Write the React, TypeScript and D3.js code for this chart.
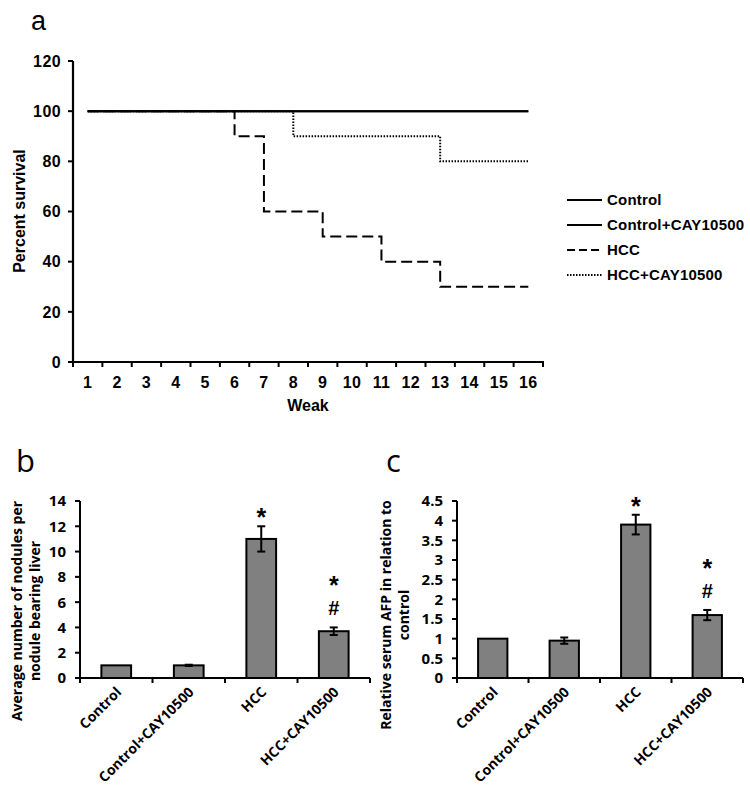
import React from "react";
import * as d3 from "d3";

// ---------- Panel a data ----------
const weekLabels = ["1","2","3","4","5","6","7","8","9","10","11","12","13","14","15","16"];
const controlSurvival = [100,100,100,100,100,100,100,100,100,100,100,100,100,100,100,100];
const controlCaySurvival = [100,100,100,100,100,100,100,100,100,100,100,100,100,100,100,100];
const hccSurvival = [100,100,100,100,100,90,60,60,50,50,40,40,30,30,30,30];
const hccCaySurvival = [100,100,100,100,100,100,100,90,90,90,90,90,80,80,80,80];
const survivalTicks = [0,20,40,60,80,100,120];
const legendLabels = ["Control","Control+CAY10500","HCC","HCC+CAY10500"];

// ---------- Panels b & c data ----------
const barCategories = ["Control","Control+CAY10500","HCC","HCC+CAY10500"];
const nodulesMean = [1.0, 1.0, 11.0, 3.7];
const nodulesErr = [0, 0.05, 1.0, 0.3];
const nodulesTicks = [0,2,4,6,8,10,12,14];
const afpMean = [1.0, 0.95, 3.9, 1.6];
const afpErr = [0, 0.08, 0.25, 0.13];
const afpTicks = [0,0.5,1,1.5,2,2.5,3,3.5,4,4.5];
const starMarks = [false, false, true, true];
const hashMarks = [false, false, false, true];

const ARIAL = "'Liberation Sans', Arial, sans-serif";
const CAL = "'Open Sans', sans-serif";

function SurvivalPanel() {
  const x = d3.scaleBand<string>().domain(weekLabels).range([73, 543]).padding(0);
  const y = d3.scaleLinear().domain([0, 120]).range([362, 61]);
  const cx = (i: number) => (x(weekLabels[i]) as number) + x.bandwidth() / 2;
  const line = d3.line<number>().x((_, i) => cx(i)).y((d) => y(d)).curve(d3.curveStepAfter);
  const series = [
    { data: controlSurvival, dash: "none" },
    { data: controlCaySurvival, dash: "none" },
    { data: hccSurvival, dash: "11,5" },
    { data: hccCaySurvival, dash: "1.5,1.5" },
  ];
  const legendDash = ["none", "none", "8,4", "1.5,1.5"];
  const boundaries = [...weekLabels.map((w) => x(w) as number), 543];
  return (
    <g>
      <text x={31} y={30} fontFamily={ARIAL} fontSize={27}>a</text>
      {series.map((s, k) => (
        <path key={k} d={line(s.data) || ""} fill="none" stroke="#000" strokeWidth={2}
          strokeDasharray={s.dash} />
      ))}
      <line x1={73} x2={73} y1={61} y2={363} stroke="#000" strokeWidth={2.2} />
      <line x1={72} x2={544} y1={362} y2={362} stroke="#000" strokeWidth={2.2} />
      {survivalTicks.map((t) => (
        <g key={t}>
          <line x1={68} x2={73} y1={y(t)} y2={y(t)} stroke="#000" strokeWidth={2} />
          <text x={61} y={y(t)} dy="0.36em" textAnchor="end" fontFamily={ARIAL}
            fontWeight="bold" fontSize={16} letterSpacing={0.4}>{t}</text>
        </g>
      ))}
      {boundaries.map((b, i) => (
        <line key={i} x1={b} x2={b} y1={362} y2={367} stroke="#000" strokeWidth={2} />
      ))}
      {weekLabels.map((w, i) => (
        <text key={w} x={cx(i)} y={388} textAnchor="middle" fontFamily={ARIAL}
          fontWeight="bold" fontSize={16} letterSpacing={0.3}>{w}</text>
      ))}
      <text x={308} y={411} textAnchor="middle" fontFamily={ARIAL} fontWeight="bold" fontSize={16}>Weak</text>
      <text transform="translate(25,211) rotate(-90)" textAnchor="middle" fontFamily={ARIAL}
        fontWeight="bold" fontSize={16}>Percent survival</text>
      {legendLabels.map((l, i) => {
        const ly = 200 + i * 25;
        return (
          <g key={l}>
            <line x1={567} x2={602} y1={ly} y2={ly} stroke="#000" strokeWidth={2}
              strokeDasharray={legendDash[i]} />
            <text x={607} y={ly} dy="0.36em" fontFamily={ARIAL} fontWeight="bold" fontSize={15}
              letterSpacing={0.2}>{l}</text>
          </g>
        );
      })}
    </g>
  );
}

interface BarProps {
  letter: string;
  letterX: number;
  letterY: number;
  x0: number;
  x1: number;
  max: number;
  ticks: number[];
  mean: number[];
  err: number[];
  label: string[];
  labelX: number;
  labelY: number;
}

function BarPanel(p: BarProps) {
  const axisY = 678;
  const x = d3.scaleBand<string>().domain(barCategories).range([p.x0, p.x1]).padding(0);
  const y = d3.scaleLinear().domain([0, p.max]).range([axisY, 501]);
  const bw = x.bandwidth() * 0.41;
  const boundaries = [...barCategories.map((c) => x(c) as number), p.x1];
  return (
    <g>
      <text x={p.letterX} y={p.letterY} fontFamily={CAL} fontSize={31}>{p.letter}</text>
      {barCategories.map((c, i) => {
        const cx = (x(c) as number) + x.bandwidth() / 2;
        const top = y(p.mean[i]);
        const errTop = y(p.mean[i] + p.err[i]);
        const errBot = y(p.mean[i] - p.err[i]);
        const starCenter = hashMarks[i] ? errTop - 47 : errTop - 14;
        return (
          <g key={c}>
            <rect x={cx - bw / 2} y={top} width={bw} height={axisY - top} fill="#808080"
              stroke="#000" strokeWidth={2} />
            {p.err[i] > 0 && (
              <g stroke="#000" strokeWidth={2}>
                <line x1={cx} x2={cx} y1={errTop} y2={errBot} />
                <line x1={cx - 4} x2={cx + 4} y1={errTop} y2={errTop} />
                <line x1={cx - 4} x2={cx + 4} y1={errBot} y2={errBot} />
              </g>
            )}
            {starMarks[i] && (
              <text x={cx} y={starCenter + 14} textAnchor="middle" fontFamily={ARIAL}
                fontWeight="bold" fontSize={25}>*</text>
            )}
            {hashMarks[i] && (
              <text x={cx} y={errTop - 20 + 8} textAnchor="middle" fontFamily={ARIAL}
                fontWeight="bold" fontSize={20}>#</text>
            )}
            <text transform={`translate(${cx + 6},${axisY + 15}) rotate(-45)`} textAnchor="end"
              fontFamily={CAL} fontWeight="bold" fontSize={14}>{c}</text>
          </g>
        );
      })}
      <line x1={p.x0} x2={p.x0} y1={501} y2={axisY + 1} stroke="#000" strokeWidth={2} />
      <line x1={p.x0 - 1} x2={p.x1} y1={axisY} y2={axisY} stroke="#000" strokeWidth={2} />
      {p.ticks.map((t) => (
        <g key={t}>
          <line x1={p.x0 - 5} x2={p.x0} y1={y(t)} y2={y(t)} stroke="#000" strokeWidth={2} />
          <text x={p.x0 - 14} y={y(t)} dy="0.36em" textAnchor="end" fontFamily={CAL}
            fontWeight="bold" fontSize={15}>{t}</text>
        </g>
      ))}
      {boundaries.map((b, i) => (
        <line key={i} x1={b} x2={b} y1={axisY} y2={axisY + 5} stroke="#000" strokeWidth={2} />
      ))}
      <text transform={`translate(${p.labelX},${p.labelY}) rotate(-90)`} textAnchor="middle"
        fontFamily={CAL} fontWeight="bold" fontSize={14}>
        <tspan x={0} dy="0.36em">{p.label[0]}</tspan>
        <tspan x={0} dy="18">{p.label[1]}</tspan>
      </text>
    </g>
  );
}

export default function App() {
  return (
    <svg width={750} height={803} style={{ position: "absolute", left: 0, top: 0, background: "#fff" }}>
      <rect width={750} height={803} fill="#fff" />
      <SurvivalPanel />
      <BarPanel letter="b" letterX={16} letterY={472} x0={80} x1={370} max={14} ticks={nodulesTicks}
        mean={nodulesMean} err={nodulesErr}
        label={["Average number of nodules per", "nodule bearing liver"]} labelX={17} labelY={611} />
      <BarPanel letter="c" letterX={386} letterY={472} x0={457} x1={743} max={4.5} ticks={afpTicks}
        mean={afpMean} err={afpErr}
        label={["Relative serum AFP in relation to", "control"]} labelX={386} labelY={615} />
    </svg>
  );
}
